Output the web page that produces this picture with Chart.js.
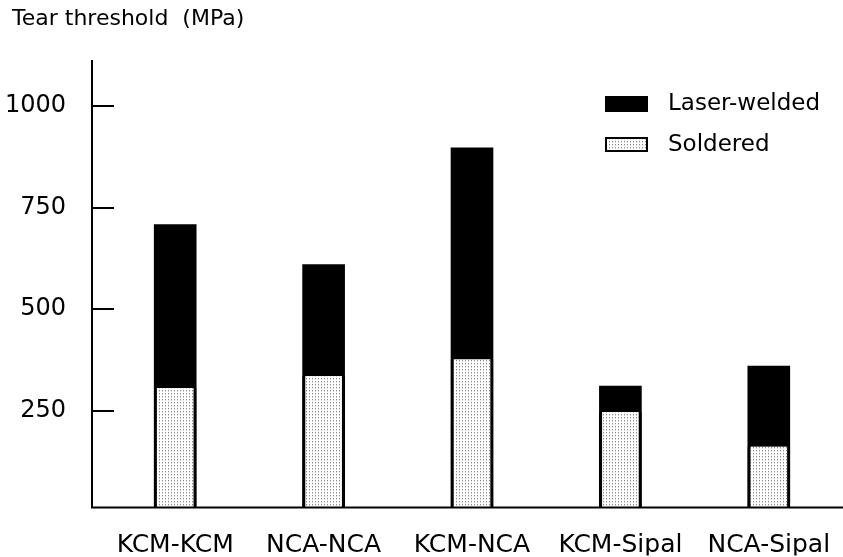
<!DOCTYPE html>
<html>
<head>
<meta charset="utf-8">
<script src="https://cdn.jsdelivr.net/npm/chart.js@4"></script>
<style>
  html, body { margin: 0; background: #fff; }
  #wrap { width: 843px; height: 557px; position: relative; }
</style>
</head>
<body>
<div id="wrap"><canvas id="chart"></canvas></div>
<script>
const categories = ['KCM-KCM', 'NCA-NCA', 'KCM-NCA', 'KCM-Sipal', 'NCA-Sipal'];
const laserWelded = [708, 610, 897, 311, 360];
const soldered = [306, 336, 377, 247, 162];
const yTicks = [250, 500, 750, 1000];

const FONT = 'DejaVu Sans';

// stipple fill for the soldered bars
function dotPattern() {
    const c = document.createElement('canvas');
    c.width = 3;
    c.height = 3;
    const g = c.getContext('2d');
    g.fillStyle = '#fff';
    g.fillRect(0, 0, 3, 3);
    g.fillStyle = '#8a8a8a';
    g.fillRect(0, 0, 1, 1);
    g.fillStyle = '#d4d4d4';
    g.fillRect(0, 1, 1, 1);
    return g.createPattern(c, 'repeat');
}
const dots = dotPattern();

// nudge the title in from the left edge
const titleShift = {
    id: 'titleShift',
    afterLayout(chart) {
        if (chart.titleBlock) {
            chart.titleBlock.left += 12;
            chart.titleBlock.right += 12;
        }
    }
};

// axis lines with inward ticks, drawn a little left of the plot area
const axesPlugin = {
    id: 'axes',
    afterDatasetsDraw(chart) {
        const { ctx, chartArea, scales } = chart;
        const ax = chartArea.left - 9;
        ctx.save();
        ctx.strokeStyle = '#000';
        ctx.lineWidth = 2;
        ctx.beginPath();
        ctx.moveTo(ax, chartArea.top);
        ctx.lineTo(ax, chartArea.bottom);
        ctx.moveTo(ax - 1, chartArea.bottom);
        ctx.lineTo(chartArea.right, chartArea.bottom);
        yTicks.forEach(v => {
            const py = Math.round(scales.y.getPixelForValue(v));
            ctx.moveTo(ax, py);
            ctx.lineTo(ax + 22, py);
        });
        ctx.stroke();
        ctx.restore();
    }
};

// legend box inside the plot, top right
const legendPlugin = {
    id: 'boxLegend',
    afterDraw(chart) {
        const ctx = chart.ctx;
        const x = 605, rowY = [104, 145];
        ctx.save();
        chart.data.datasets.forEach((ds, i) => {
            const cy = rowY[i];
            ctx.fillStyle = ds.backgroundColor;
            if (ds.borderColor) {
                ctx.fillRect(x, cy - 8, 43, 15);
                ctx.strokeStyle = '#000';
                ctx.lineWidth = 2;
                ctx.strokeRect(x + 1, cy - 7, 41, 13);
            } else {
                ctx.fillRect(x, cy - 8, 43, 16);
            }
            ctx.fillStyle = '#000';
            ctx.font = '23px "' + FONT + '"';
            ctx.textBaseline = 'middle';
            ctx.fillText(ds.label, x + 63, cy);
        });
        ctx.restore();
    }
};

new Chart(document.getElementById('chart'), {
    type: 'bar',
    data: {
        labels: categories,
        datasets: [
            {
                label: 'Laser-welded',
                data: laserWelded,
                backgroundColor: '#000',
                borderWidth: 0,
                barThickness: 42,
                order: 1
            },
            {
                label: 'Soldered',
                data: soldered,
                backgroundColor: dots,
                borderColor: '#000',
                borderWidth: { left: 3, right: 3, top: 0, bottom: 0 },
                borderSkipped: false,
                barThickness: 42,
                order: 0
            }
        ]
    },
    options: {
        responsive: true,
        maintainAspectRatio: false,
        animation: false,
        layout: { padding: 0 },
        plugins: {
            legend: { display: false },
            tooltip: { enabled: false },
            title: {
                display: true,
                text: 'Tear threshold  (MPa)',
                align: 'start',
                color: '#000',
                font: { family: FONT, size: 22, weight: 'normal' },
                padding: { top: 6, bottom: 27.6 }
            }
        },
        scales: {
            x: {
                stacked: true,
                grid: { display: false, drawTicks: false },
                border: { display: false },
                ticks: {
                    color: '#000',
                    font: { family: FONT, size: 25 },
                    padding: 23,
                    maxRotation: 0,
                    autoSkip: false
                },
                afterFit(s) {
                    s.height = 48;
                    s.paddingLeft = 0;
                    s.paddingRight = 0;
                }
            },
            y: {
                stacked: false,
                min: 12,
                max: 1113,
                grid: { display: false, drawTicks: false },
                border: { display: false },
                ticks: {
                    color: '#000',
                    font: { family: FONT, size: 24 },
                    padding: 35,
                    callback: v => String(v)
                },
                afterBuildTicks(s) { s.ticks = yTicks.map(v => ({ value: v })); },
                afterFit(s) { s.width = 101; }
            }
        }
    },
    plugins: [titleShift, axesPlugin, legendPlugin]
});
</script>
</body>
</html>
